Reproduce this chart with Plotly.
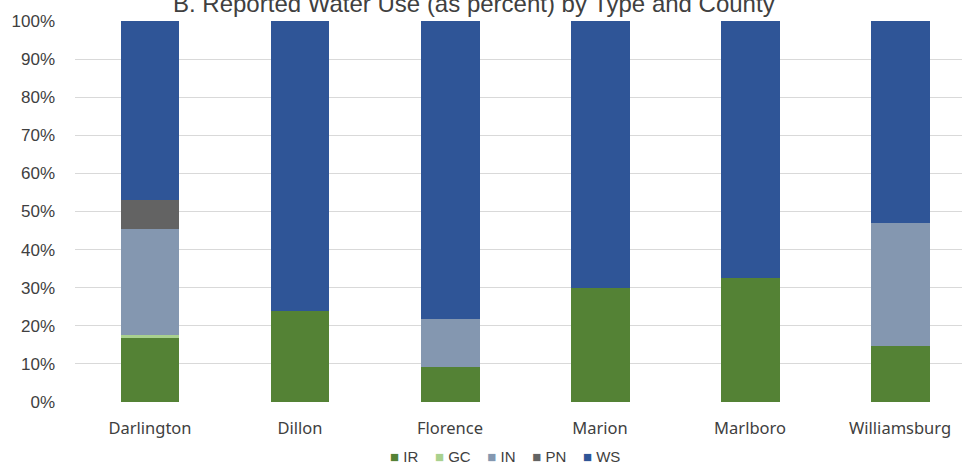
import plotly.graph_objects as go

counties = ["Darlington", "Dillon", "Florence", "Marion", "Marlboro", "Williamsburg"]
ir = [16.8, 23.8, 9.2, 30.0, 32.5, 14.7]
gc = [0.7, 0, 0, 0, 0, 0]
inn = [27.8, 0, 12.5, 0, 0, 32.3]
pn = [7.7, 0, 0, 0, 0, 0]
ws = [47.0, 76.2, 78.3, 70.0, 67.5, 53.0]

series = [
    ("IR", ir, "#548235"),
    ("GC", gc, "#A9D18E"),
    ("IN", inn, "#8497B0"),
    ("PN", pn, "#636363"),
    ("WS", ws, "#2F5597"),
]

fig = go.Figure()
for name, vals, col in series:
    fig.add_trace(go.Bar(x=counties, y=vals, name=name, marker_color=col,
                         marker_line_width=0, width=0.393, showlegend=False))

# compact legend like the original: small square right before each label
gap = "\u00a0" * 4
legend_text = gap.join(
    f"<span style='color:{col}'>■</span>\u00a0{name}" for name, _, col in series)

fig.update_layout(
    barmode="stack",
    width=962, height=463,
    margin=dict(l=75, r=0, t=21, b=61, autoexpand=False),
    plot_bgcolor="white", paper_bgcolor="white",
    font=dict(family="Liberation Sans", color="#404040"),
    annotations=[
        dict(text="B. Reported Water Use (as percent) by Type and County",
             xref="paper", yref="paper", x=0.45, y=1.005,
             xanchor="center", yanchor="bottom", showarrow=False,
             font=dict(size=24, family="Liberation Sans", color="#404040")),
        dict(text=legend_text, xref="paper", yref="paper", x=0.485, y=-0.143,
             xanchor="center", yanchor="middle", showarrow=False,
             font=dict(size=15, family="Liberation Sans", color="#404040")),
    ],
)
fig.update_xaxes(range=[-0.5, 5.413], showgrid=False, showline=False, automargin=False,
                 tickfont=dict(size=16.5, family="Noto Sans", color="#404040"),
                 ticklabelstandoff=14)
fig.update_yaxes(range=[0, 100], dtick=10, ticksuffix="%", showgrid=True, automargin=False,
                 gridcolor="#D9D9D9", gridwidth=1.3, zeroline=False,
                 tickfont=dict(size=17, color="#404040"), ticklabelstandoff=19)

fig.write_html("out.html", config={"displayModeBar": False})

# drop the default page margin so the figure sits at the window's corner
with open("out.html") as f:
    page = f.read()
page = page.replace("<head>", "<head><style>body{margin:0;overflow:hidden}</style>", 1)
with open("out.html", "w") as f:
    f.write(page)
